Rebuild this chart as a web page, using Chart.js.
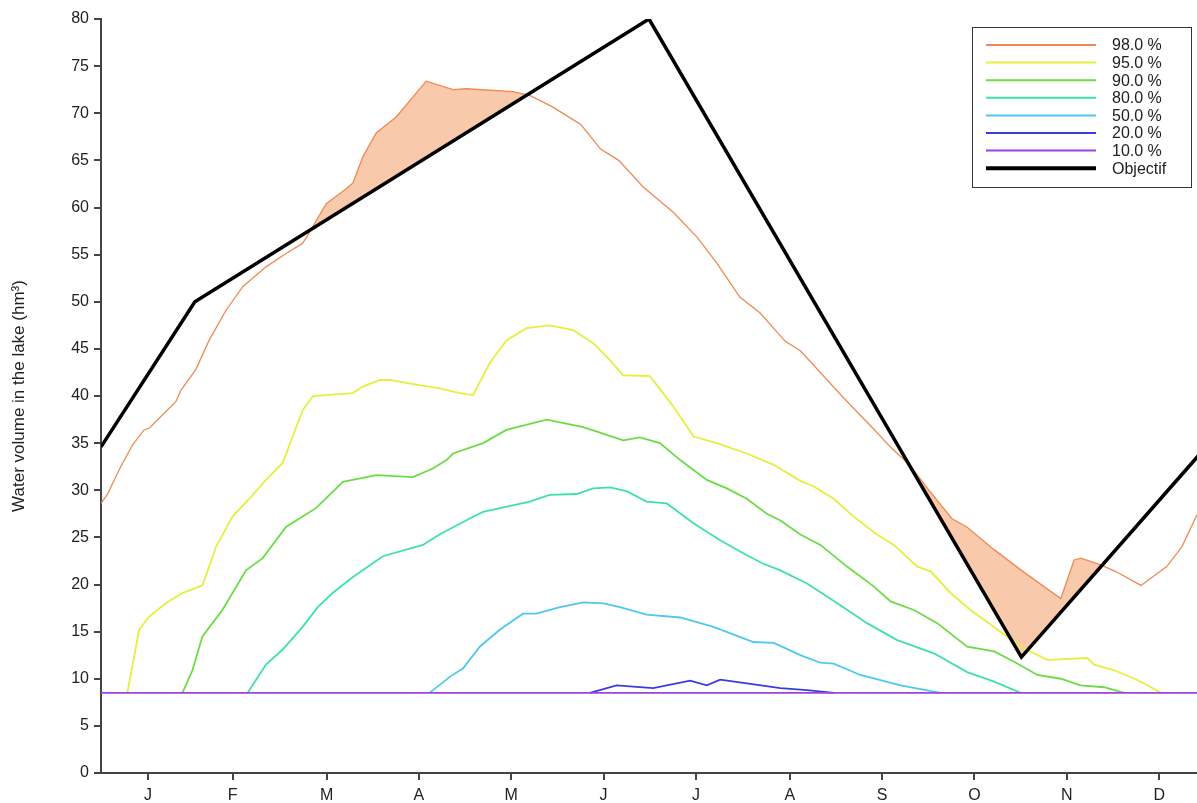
<!DOCTYPE html>
<html>
<head>
<meta charset="utf-8">
<script src="https://cdn.jsdelivr.net/npm/chart.js@4/dist/chart.umd.min.js"></script>
<style>
  html, body { margin: 0; padding: 0; background: #fff; }
  #wrap { width: 1197px; height: 803px; position: relative; }
</style>
</head>
<body>
<div id="wrap"><canvas id="lakeChart"></canvas></div>
<script>
// month ticks sit in the middle of each month (day of year)
const monthLabels = ["J", "F", "M", "A", "M", "J", "J", "A", "S", "O", "N", "D"];
const monthTicks = [15.5, 43.5, 74.5, 105, 135.5, 166, 196.5, 227.5, 258, 288.5, 319, 349.5];
const yTicks = [0, 5, 10, 15, 20, 25, 30, 35, 40, 45, 50, 55, 60, 65, 70, 75, 80];

// [day of year, volume hm3]
const p98 = [[0,28.6],[2,29.5],[6.5,32.5],[10.4,34.8],[14.2,36.4],[16,36.6],[24.7,39.4],[26.4,40.6],[31.3,42.8],[35.7,45.9],[41.3,49.1],[46.8,51.6],[54.5,53.7],[61,55.1],[66.6,56.2],[68.8,57.3],[70.5,58.3],[74.4,60.4],[81,62.0],[83.2,62.6],[86.5,65.4],[90.9,67.9],[97.5,69.6],[107.4,73.4],[116.3,72.5],[120.7,72.6],[136,72.3],[141.6,71.9],[149,70.7],[156,69.3],[158.5,68.8],[165,66.2],[171,65.0],[179,62.2],[189,59.5],[197,56.8],[203.4,54.1],[211,50.5],[217.7,48.8],[226,45.8],[231,44.8],[245,39.9],[255.5,36.4],[261,34.5],[267,32.7],[273,30.2],[281,27.0],[286,26.1],[295,23.7],[304,21.5],[317,18.5],[321.4,22.6],[323.6,22.8],[330,22.1],[335,21.4],[343.5,19.9],[352,21.9],[357,24.0],[362,27.4],[365,28.6]];
const p95 = [[8.7,8.5],[12.6,15.2],[15.9,16.6],[21.4,18.0],[26.9,19.1],[33.5,19.9],[38,24.0],[43.4,27.2],[49,29.1],[54.5,31.1],[60,32.9],[63.3,35.7],[66.6,38.5],[70,40.0],[83.2,40.3],[86.5,41.0],[92,41.7],[95.3,41.7],[104.1,41.2],[111.8,40.8],[118.5,40.3],[122.9,40.1],[128.4,43.5],[133.9,45.9],[140.5,47.2],[148.2,47.5],[156,47.0],[162.6,45.6],[168.1,43.8],[172.5,42.2],[181.3,42.1],[189,38.9],[195.7,35.7],[203.4,35.0],[213.3,33.9],[222.2,32.7],[231,31.0],[235.4,30.4],[242,29.1],[248.6,27.2],[256.3,25.3],[261.9,24.2],[269.6,21.9],[274,21.4],[280.6,19.1],[287.2,17.3],[295,15.5],[303.8,13.4],[312.6,12.0],[325.8,12.2],[328,11.5],[334.7,10.9],[341.3,10.0],[344.6,9.5],[350.1,8.5]];
const p90 = [[26.9,8.5],[30.2,10.9],[33.5,14.5],[40.1,17.3],[47.9,21.5],[53.4,22.8],[61.1,26.1],[71,28.1],[79.9,30.9],[90.9,31.6],[103,31.4],[109.6,32.3],[114.1,33.2],[116.3,33.9],[126.2,35.0],[133.9,36.4],[147.2,37.5],[159.3,36.7],[172.5,35.3],[178,35.6],[184.6,35.0],[191.3,33.2],[200.1,31.1],[206.7,30.2],[213.3,29.1],[219.9,27.5],[224.4,26.8],[231,25.3],[237.6,24.2],[246.4,21.9],[255.2,19.8],[260.8,18.2],[268.5,17.3],[276.2,15.9],[286.1,13.4],[295,12.9],[301.6,11.8],[309.3,10.4],[317,10.0],[323.6,9.3],[331.3,9.1],[338,8.5]];
const p80 = [[48.4,8.5],[54.5,11.5],[60,13.1],[66.6,15.5],[71.6,17.6],[76.5,19.1],[83.2,20.8],[93.1,23.0],[106.3,24.2],[111.8,25.3],[121.8,27.0],[126.2,27.7],[141.6,28.8],[148.2,29.5],[157.1,29.6],[162.6,30.2],[168.1,30.3],[173.6,29.9],[180.2,28.8],[186.9,28.6],[195.7,26.5],[204.5,24.7],[213.3,23.1],[218.8,22.2],[224.4,21.5],[233.2,20.1],[244.2,17.8],[253,15.9],[263,14.1],[275.1,12.7],[286.1,10.7],[295,9.7],[303.8,8.5]];
const p50 = [[108.5,8.5],[115.2,10.2],[119.6,11.1],[125.1,13.4],[131.7,15.2],[139.4,16.9],[143.8,16.9],[151.6,17.6],[159.3,18.1],[165.9,18.0],[171.4,17.6],[180.2,16.8],[191.3,16.5],[202.3,15.5],[215.5,13.9],[222.2,13.8],[231,12.5],[237.6,11.7],[242,11.6],[250.8,10.4],[264.1,9.3],[277.3,8.5]];
const p20 = [[161.5,8.5],[170.3,9.3],[182.4,9.0],[194.6,9.8],[200.1,9.3],[204.5,9.9],[213.3,9.5],[224.4,9.0],[233.2,8.8],[242,8.5]];
const p10 = [[0,8.5],[365,8.5]];
const objectif = [[0,34.6],[31,50],[181,80],[304,12.3],[365,34.6]];

const seriesLabels = ["98.0 %", "95.0 %", "90.0 %", "80.0 %", "50.0 %", "20.0 %", "10.0 %", "Objectif"];
const seriesData = [p98, p95, p90, p80, p50, p20, p10, objectif];
const seriesColors = ["#ef8a55", "#e4f03c", "#6cdc46", "#3fe2a6", "#4ec8ec", "#3b3cdc", "#a040e0", "#000000"];
const seriesWidths = [1.3, 1.8, 1.8, 1.8, 1.8, 1.8, 1.8, 3.5];

const toXY = (pts) => pts.map(([x, y]) => ({ x, y }));

const datasets = seriesLabels.map((label, i) => ({
  label,
  data: toXY(seriesData[i]),
  borderColor: seriesColors[i],
  borderWidth: seriesWidths[i],
  pointRadius: 0,
  tension: 0,
  fill: false,
  order: seriesLabels.length - 1 - i,
}));
// shade where the 98 % curve rises above the objective
datasets[0].fill = { target: 7, above: "rgb(249,201,172)", below: "rgba(0,0,0,0)" };

const boxLegend = {
  id: "boxLegend",
  afterDraw(chart) {
    const ctx = chart.ctx;
    const x0 = 972, y0 = 27, w = 219, h = 160;
    ctx.save();
    ctx.fillStyle = "#fff";
    ctx.fillRect(x0, y0, w, h);
    ctx.strokeStyle = "#333";
    ctx.lineWidth = 1;
    ctx.strokeRect(x0 + 0.5, y0 + 0.5, w, h);
    ctx.font = "16px 'Liberation Sans', Arial, sans-serif";
    ctx.textBaseline = "middle";
    seriesLabels.forEach((label, i) => {
      const y = 45 + i * 17.6;
      ctx.beginPath();
      ctx.strokeStyle = seriesColors[i];
      ctx.lineWidth = i === 7 ? 4 : 2;
      ctx.moveTo(986, y);
      ctx.lineTo(1096, y);
      ctx.stroke();
      ctx.fillStyle = "#222";
      ctx.fillText(label, 1112, y + 1);
    });
    ctx.restore();
  },
};

new Chart(document.getElementById("lakeChart"), {
  type: "line",
  data: { datasets },
  options: {
    responsive: true,
    maintainAspectRatio: false,
    animation: false,
    layout: { padding: { top: 19, right: 0, bottom: 0, left: 0 } },
    plugins: { legend: { display: false }, tooltip: { enabled: false } },
    scales: {
      x: {
        type: "linear",
        min: 0,
        max: 362,
        afterBuildTicks: (scale) => { scale.ticks = monthTicks.map((v) => ({ value: v })); },
        afterFit: (scale) => { scale.height = 30; },
        ticks: {
          callback: (v, i) => monthLabels[i],
          autoSkip: false,
          maxRotation: 0,
          padding: 6,
          color: "#222",
          font: { family: "'Liberation Sans', Arial, sans-serif", size: 16 },
        },
        grid: { drawOnChartArea: false, tickLength: 7, color: "#444", lineWidth: 2 },
        border: { color: "#444", width: 2 },
      },
      y: {
        min: 0,
        max: 80,
        afterBuildTicks: (scale) => { scale.ticks = yTicks.map((v) => ({ value: v })); },
        afterFit: (scale) => { scale.width = 101; },
        ticks: {
          padding: 5,
          color: "#222",
          font: { family: "'Liberation Sans', Arial, sans-serif", size: 16 },
        },
        grid: { drawOnChartArea: false, tickLength: 7, color: "#444", lineWidth: 2 },
        border: { color: "#444", width: 2 },
        title: {
          display: true,
          text: "Water volume in the lake (hm³)",
          color: "#222",
          padding: { top: 9, bottom: 0 },
          font: { family: "'Liberation Sans', Arial, sans-serif", size: 17 },
        },
      },
    },
  },
  plugins: [boxLegend],
});
</script>
</body>
</html>
